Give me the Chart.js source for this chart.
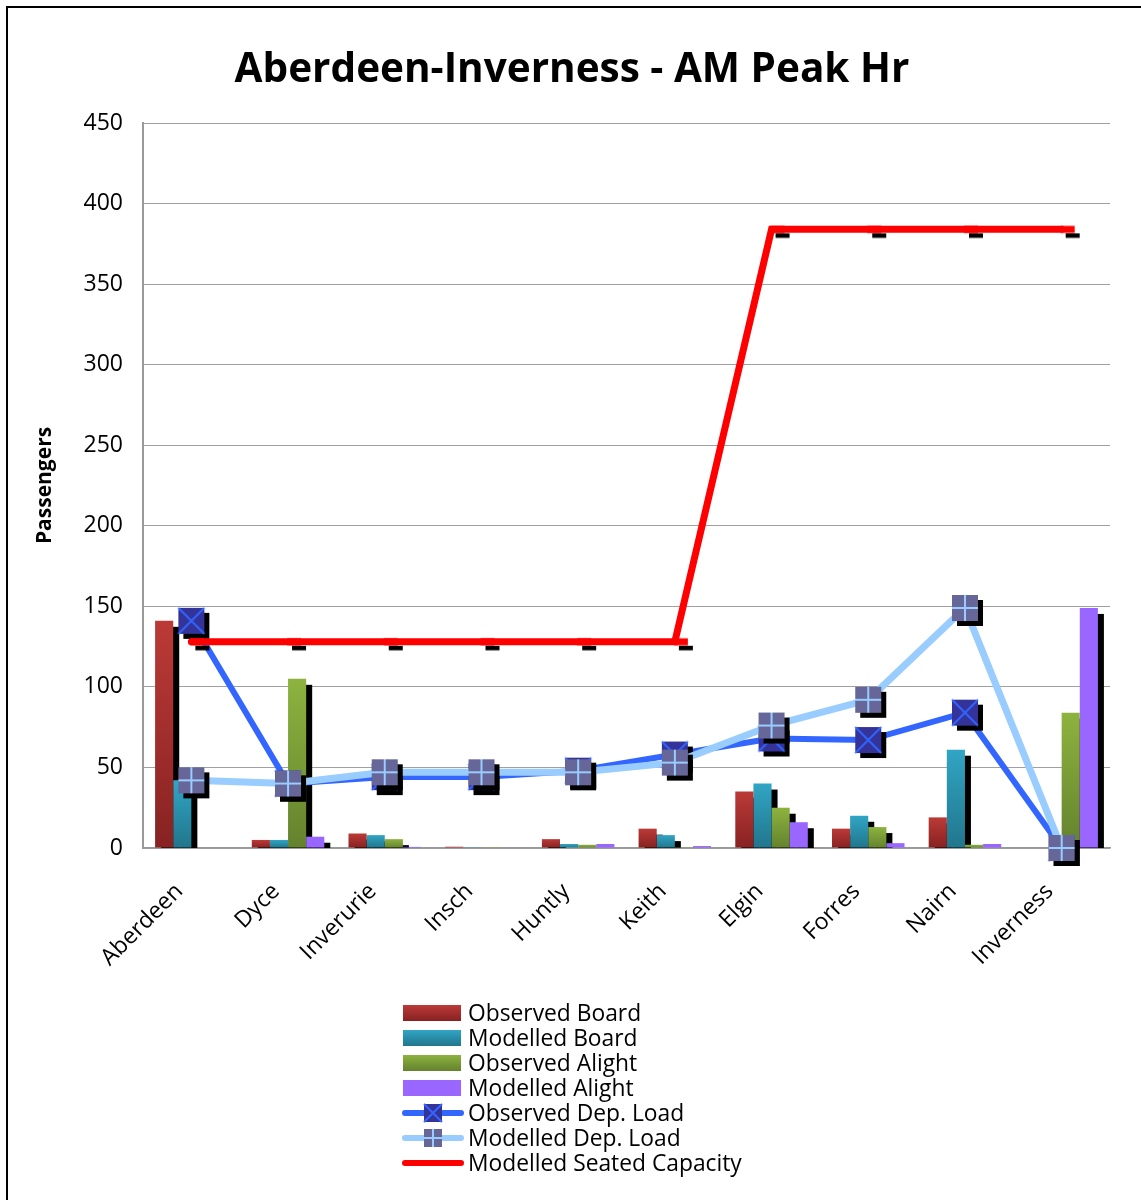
<!DOCTYPE html>
<html>
<head>
<meta charset="utf-8">
<title>Aberdeen-Inverness - AM Peak Hr</title>
<script src="https://cdn.jsdelivr.net/npm/chart.js@4.4.1/dist/chart.umd.min.js"></script>
<style>
  body { margin: 0; background: #fff; font-family: 'Open Sans', sans-serif; }
  #frame { position: absolute; left: 6px; top: 6px; width: 1200px; height: 1300px;
           border-left: 2px solid #000; border-top: 2px solid #000; }
  #wrap { position: absolute; left: 0; top: 0; width: 1141px; height: 1200px; }
  #legend { position: absolute; left: 401px; top: 1000px; }
  .row { height: 25px; display: flex; align-items: center; font-size: 22.8px; line-height: 25px; }
  .row canvas { width: 64px; height: 22px; margin-right: 3px; }
</style>
</head>
<body>
<div id="frame"></div>
<div id="wrap"><canvas id="loadChart"></canvas></div>
<div id="legend"></div>
<script>
const stations = ['Aberdeen', 'Dyce', 'Inverurie', 'Insch', 'Huntly', 'Keith', 'Elgin', 'Forres', 'Nairn', 'Inverness'];

const observedBoard  = [141, 5, 9, 0.8, 5.5, 12, 35, 12, 19, 0];
const modelledBoard  = [42, 5, 8, 0.5, 2.5, 8, 40, 20, 61, 0];
const observedAlight = [0, 105, 5.5, 0.5, 2, 0.5, 25, 13, 2, 84];
const modelledAlight = [0, 7, 0.7, 0.3, 2.5, 1.2, 16, 3, 2.5, 149];

const observedDepLoad = [141, 40, 44, 44, 48, 58, 68, 67, 84, 0];
const modelledDepLoad = [42, 40, 47, 47, 47, 53, 76, 92, 149, 0];
const seatedCapacity  = [128, 128, 128, 128, 128, 128, 384, 384, 384, 384];

const yTicks = { min: 0, max: 450, step: 50 };

// vertical gradient for each bar, lighter at the top
function barFill(top, bottom) {
    return function(ctx) {
        const chart = ctx.chart;
        if (ctx.type !== 'data' || !chart.chartArea) return top;
        const y = chart.scales.y;
        const y0 = y.getPixelForValue(ctx.parsed.y);
        const y1 = y.getPixelForValue(0);
        if (y1 - y0 < 2) return top;
        const g = chart.ctx.createLinearGradient(0, y0, 0, y1);
        g.addColorStop(0, top);
        g.addColorStop(1, bottom);
        return g;
    };
}

// square marker with a hard black drop shadow
function squareMarker(fill, stroke, cross, size, shadow) {
    const half = size / 2;
    const c = document.createElement('canvas');
    const dim = 2 * (half + shadow) + 2;
    c.width = dim; c.height = dim;
    const g = c.getContext('2d');
    const m = dim / 2;
    if (shadow) {
        g.fillStyle = '#000';
        g.fillRect(m - half + shadow, m - half + shadow, size, size);
    }
    g.fillStyle = fill;
    g.fillRect(m - half, m - half, size, size);
    g.strokeStyle = stroke;
    g.lineWidth = 2;
    g.beginPath();
    if (cross === 'x') {
        g.moveTo(m - half, m - half); g.lineTo(m + half, m + half);
        g.moveTo(m + half, m - half); g.lineTo(m - half, m + half);
    } else {
        g.moveTo(m, m - half); g.lineTo(m, m + half);
        g.moveTo(m - half, m); g.lineTo(m + half, m);
    }
    g.stroke();
    return c;
}

// red dash marker for the capacity line, black shadow peeking out below
function dashMarker() {
    const c = document.createElement('canvas');
    c.width = 40; c.height = 20;
    const g = c.getContext('2d');
    g.fillStyle = '#000';
    g.fillRect(24, 14, 14, 4.5);
    g.fillStyle = '#ff0000';
    g.fillRect(19, 6.5, 14, 7);
    return c;
}

const obsMarker = squareMarker('#333399', '#3366ff', 'x', 26, 5);
const modMarker = squareMarker('#666699', '#99ccff', '+', 26, 5);

// all bar shadows go down first so every bar sits on top of its neighbour's shadow
const barShadow = {
    id: 'barShadow',
    beforeDatasetsDraw(chart) {
        const c = chart.ctx;
        const a = chart.chartArea;
        c.save();
        c.beginPath();
        c.rect(a.left, a.top, a.right - a.left, a.bottom - a.top);
        c.clip();
        c.fillStyle = '#000';
        chart.getSortedVisibleDatasetMetas().forEach(function(meta) {
            if (meta.type !== 'bar') return;
            meta.data.forEach(function(bar) {
                const p = bar.getProps(['x', 'y', 'base', 'width'], true);
                const h = p.base - p.y;
                if (h <= 0.5) return;
                c.fillRect(p.x - p.width / 2 + 6, p.y + 6, p.width, h);
            });
        });
        c.restore();
    }
};

Chart.defaults.font.family = "'Open Sans', sans-serif";
Chart.defaults.color = '#000';

const barColours = [
    ['#bb3a37', '#872222'],
    ['#31a5c4', '#21768c'],
    ['#8db33f', '#64822e'],
    ['#9966ff', '#9966ff']
];

const data = {
    labels: stations,
    datasets: [
        { type: 'line', label: 'Modelled Seated Capacity', data: seatedCapacity, order: 0,
          borderColor: '#ff0000', borderWidth: 7, pointStyle: dashMarker(), clip: false,
          borderJoinStyle: 'miter', borderCapStyle: 'round' },
        { type: 'line', label: 'Modelled Dep. Load', data: modelledDepLoad, order: 1,
          borderColor: '#99ccff', borderWidth: 7, pointStyle: modMarker, clip: false },
        { type: 'line', label: 'Observed Dep. Load', data: observedDepLoad, order: 2,
          borderColor: '#3366ff', borderWidth: 6, pointStyle: obsMarker, clip: false },
        { label: 'Observed Board', data: observedBoard, order: 3, clip: 0,
          backgroundColor: barFill(barColours[0][0], barColours[0][1]) },
        { label: 'Modelled Board', data: modelledBoard, order: 4, clip: 0,
          backgroundColor: barFill(barColours[1][0], barColours[1][1]) },
        { label: 'Observed Alight', data: observedAlight, order: 5, clip: 0,
          backgroundColor: barFill(barColours[2][0], barColours[2][1]) },
        { label: 'Modelled Alight', data: modelledAlight, order: 6, clip: 0,
          backgroundColor: barColours[3][0] }
    ]
};

const config = {
    type: 'bar',
    data: data,
    plugins: [barShadow],
    options: {
        responsive: true,
        maintainAspectRatio: false,
        animation: false,
        layout: { padding: { left: 34, right: 31, top: 0, bottom: 0 } },
        datasets: {
            bar: { categoryPercentage: 0.75, barPercentage: 1.0 },
            line: { tension: 0, fill: false, borderCapStyle: 'butt' }
        },
        plugins: {
            legend: { display: false },
            tooltip: { enabled: false },
            title: {
                display: true,
                text: 'Aberdeen-Inverness - AM Peak Hr',
                font: { size: 40.5, weight: 'bold', lineHeight: 1.2 },
                padding: { top: 46, bottom: 28.4 }
            }
        },
        scales: {
            x: {
                grid: { display: false },
                border: { display: true, color: '#999', width: 1.5 },
                ticks: { font: { size: 23 }, minRotation: 45, maxRotation: 45, autoSkip: false,
                         padding: 22, labelOffset: -12 },
                afterFit(scale) { scale.height = 352; }
            },
            y: {
                min: yTicks.min, max: yTicks.max,
                grid: { color: '#a0a0a0', lineWidth: 1, drawTicks: false },
                border: { color: '#999', width: 2 },
                ticks: { stepSize: yTicks.step, font: { size: 23 }, padding: 20 },
                title: { display: true, text: 'Passengers', font: { size: 21, weight: 'bold' },
                         padding: { top: -2 } },
                afterFit(scale) { scale.width = 109; }
            }
        }
    }
};

window.onload = function() {
    new Chart(document.getElementById('loadChart').getContext('2d'), config);

    // legend list in the same order as the original chart key
    const legendItems = [
        { text: 'Observed Board', kind: 'bar', c: barColours[0] },
        { text: 'Modelled Board', kind: 'bar', c: barColours[1] },
        { text: 'Observed Alight', kind: 'bar', c: barColours[2] },
        { text: 'Modelled Alight', kind: 'bar', c: barColours[3] },
        { text: 'Observed Dep. Load', kind: 'line', line: '#3366ff', marker: ['#333399', '#3366ff', 'x'] },
        { text: 'Modelled Dep. Load', kind: 'line', line: '#99ccff', marker: ['#666699', '#99ccff', '+'] },
        { text: 'Modelled Seated Capacity', kind: 'line', line: '#ff0000' }
    ];
    const box = document.getElementById('legend');
    legendItems.forEach(function(item) {
        const row = document.createElement('div');
        row.className = 'row';
        const sym = document.createElement('canvas');
        sym.width = 64; sym.height = 22;
        const g = sym.getContext('2d');
        if (item.kind === 'bar') {
            const grad = g.createLinearGradient(0, 3, 0, 19);
            grad.addColorStop(0, item.c[0]);
            grad.addColorStop(1, item.c[1]);
            g.fillStyle = grad;
            g.fillRect(2, 3, 58, 16);
        } else {
            g.strokeStyle = item.line;
            g.lineWidth = 6;
            g.lineCap = 'round';
            g.beginPath(); g.moveTo(4, 11); g.lineTo(60, 11); g.stroke();
            if (item.marker) {
                const mk = squareMarker(item.marker[0], item.marker[1], item.marker[2], 18, 0);
                g.drawImage(mk, 32 - mk.width / 2, 11 - mk.height / 2);
            }
        }
        const label = document.createElement('span');
        label.textContent = item.text;
        row.appendChild(sym);
        row.appendChild(label);
        box.appendChild(row);
    });
};
</script>
</body>
</html>
